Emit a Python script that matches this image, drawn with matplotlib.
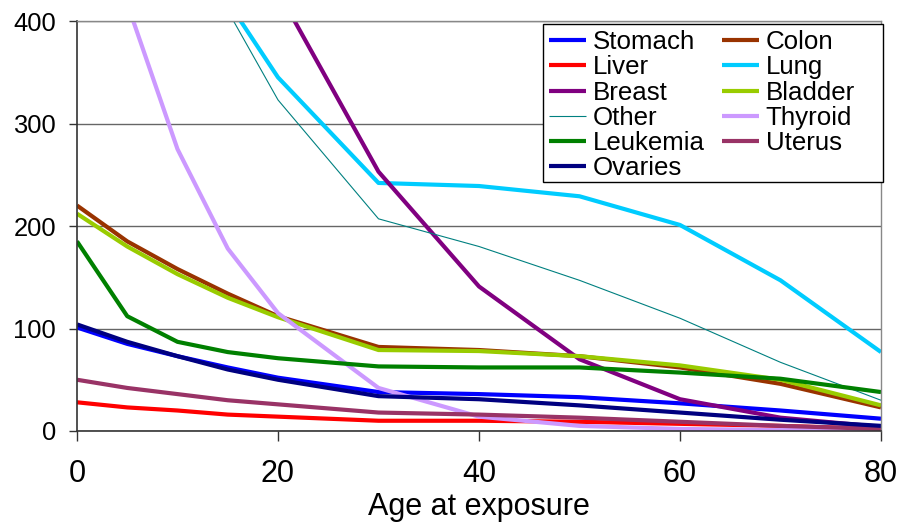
import matplotlib
matplotlib.use("Agg")
import matplotlib.pyplot as plt
from matplotlib.patches import Rectangle

plt.rcParams['font.family'] = ['Liberation Sans', 'DejaVu Sans']

ages = [0, 5, 10, 15, 20, 30, 40, 50, 60, 70, 80]

stomach  = [101, 85, 73, 62, 52, 38, 36, 33, 27, 20, 12]
colon    = [220, 185, 158, 134, 112, 82, 79, 73, 62, 46, 23]
liver    = [28, 23, 20, 16, 14, 10, 10, 9, 7, 5, 2]
lung     = [670, 560, 480, 419, 345, 242, 239, 229, 201, 147, 77]
breast   = [1171, 914, 712, 553, 429, 253, 141, 70, 31, 13, 4]
bladder  = [212, 180, 153, 130, 111, 79, 78, 73, 64, 50, 25]
other    = [760, 620, 500, 410, 323, 207, 180, 147, 110, 67, 30]
thyroid  = [640, 417, 275, 178, 115, 42, 14, 5, 2, 1, 0.5]
leukemia = [185, 112, 87, 77, 71, 63, 62, 62, 57, 51, 38]
uterus   = [50, 42, 36, 30, 26, 18, 16, 13, 9, 5, 2]
ovaries  = [104, 87, 73, 60, 50, 34, 31, 25, 18, 11, 5]

series = [
    ("Stomach", stomach, "#0000FF", 3.0),
    ("Colon", colon, "#993300", 3.0),
    ("Liver", liver, "#FF0000", 3.0),
    ("Lung", lung, "#00CCFF", 3.0),
    ("Breast", breast, "#800080", 3.0),
    ("Bladder", bladder, "#99CC00", 3.0),
    ("Other", other, "#008080", 0.8),
    ("Thyroid", thyroid, "#CC99FF", 3.0),
    ("Leukemia", leukemia, "#008000", 3.0),
    ("Uterus", uterus, "#993366", 3.0),
    ("Ovaries", ovaries, "#000080", 3.0),
]

fig = plt.figure(figsize=(9, 5.29), dpi=100)
ax = fig.add_axes([77/900, 1-431/529, (881-77)/900, (431-21)/529])

handles = {}
for name, vals, col, lw in series:
    ln, = ax.plot(ages, vals, color=col, lw=lw, label=name, solid_capstyle='butt')
    handles[name] = ln

ax.set_xlim(0, 80)
ax.set_ylim(0, 400)
ax.set_xticks([0, 20, 40, 60, 80])
ax.set_yticks([0, 100, 200, 300, 400])
ax.yaxis.grid(True, color='#666666', lw=1.0)
ax.set_axisbelow(True)
for s in ['top', 'right']:
    ax.spines[s].set_color('#888888')
    ax.spines[s].set_linewidth(1.0)
for s in ['left', 'bottom']:
    ax.spines[s].set_color('#333333')
    ax.spines[s].set_linewidth(1.2)
ax.tick_params(axis='y', direction='out', length=6, width=1, color='#333333',
               labelsize=18.4, pad=9)
ax.tick_params(axis='x', direction='out', length=7, width=1, color='#333333',
               labelsize=22, pad=13)
ax.set_xlabel("Age at exposure", fontsize=22, labelpad=2)

# legend box (Excel style, extra room on the right)
box = Rectangle((543/900, 1-182/529), (883-543)/900, (182-24)/529,
                transform=fig.transFigure, facecolor='white',
                edgecolor='black', lw=1.0, zorder=4)
fig.add_artist(box)

order = ["Stomach", "Liver", "Breast", "Other", "Leukemia", "Ovaries",
         "Colon", "Lung", "Bladder", "Thyroid", "Uterus"]
leg = fig.legend([handles[n] for n in order], order, ncol=2,
                 loc='upper left', bbox_to_anchor=(549/900, 1-30/529),
                 fontsize=18.6, frameon=False, borderaxespad=0,
                 handlelength=1.45, handletextpad=0.25, labelspacing=0.05,
                 columnspacing=0.65, borderpad=0.0)
leg.set_zorder(5)

fig.savefig("out.png", dpi=100)
